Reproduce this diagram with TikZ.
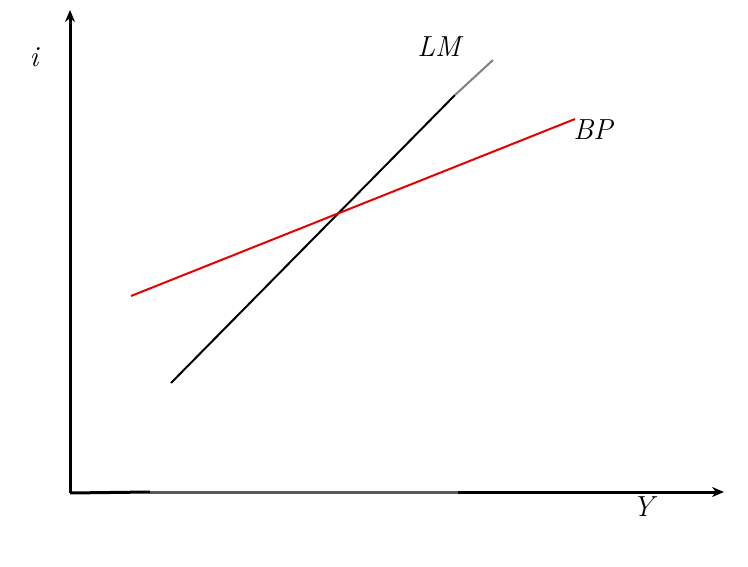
\documentclass[tikz,border=0pt]{standalone}
\usepackage{tikz}
\usetikzlibrary{arrows.meta,positioning}
\definecolor{bpred}{RGB}{230,0,0}

\begin{document}
\begin{tikzpicture}[x=1pt,y=-1pt,
  axis/.style={line width=3pt,-{Stealth[length=12pt,width=10pt]}},
  curve/.style={line width=2pt},
  lbl/.style={font=\fontsize{29}{33}\selectfont\itshape,inner sep=0pt}]
\useasboundingbox (0,0) rectangle (748,567);
% axes
\coordinate (o) at (70,493);
\coordinate (ytop) at (70,10);
\coordinate (xend) at (724,492);
\coordinate (xa) at (150,492);
\coordinate (xb) at (458,492);
\draw[axis] (o) -- (ytop);
\draw[line width=3pt] (o) -- (xa);
\draw[line width=3pt,black!65] (xa) -- (xb);
\draw[axis] (xb) -- (xend);
% LM curve
\coordinate (lm0) at (171,383);
\coordinate (lm1) at (455,95);
\coordinate (lm2) at (493,60);
\draw[curve] (lm0) -- (lm1);
\draw[curve,gray] (lm1) -- (lm2);
% BP curve
\coordinate (bp0) at (131,296);
\coordinate (bp1) at (575,119);
\draw[curve,bpred] (bp0) -- (bp1);
% labels
\node[lbl] (i)  at (34,57)  {i};
\node[lbl] (lm) at (439,47) {LM};
\node[lbl] (bp) at (593,130) {BP};
\node[lbl] (y)  at (643,507) {Y};
\end{tikzpicture}
\end{document}
